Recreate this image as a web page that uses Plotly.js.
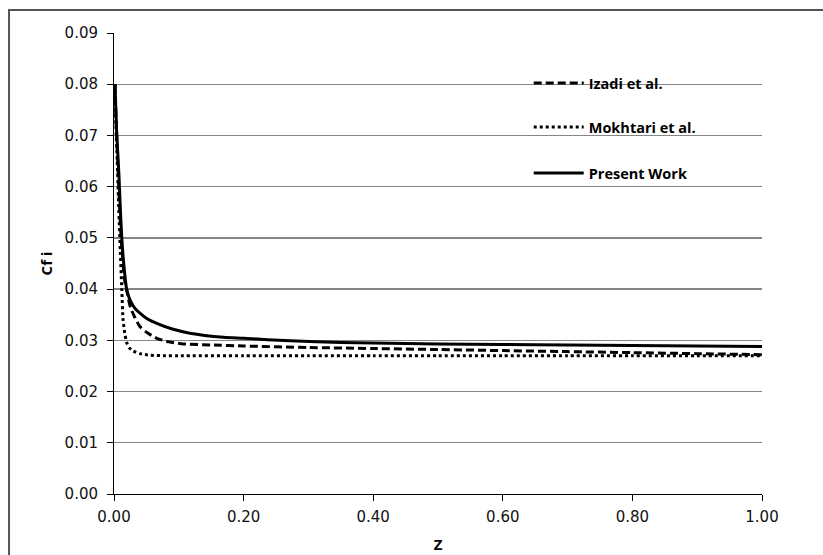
<!DOCTYPE html>
<html>
<head>
<meta charset="utf-8">
<script src="https://cdn.plot.ly/plotly-3.0.1.min.js"></script>
<style>html,body{margin:0;padding:0;background:#fff;}#chart{width:823px;height:555px;}</style>
</head>
<body>
<div id="chart"></div>
<script>
// Data
const izadiZ   = [0.0015, 0.004, 0.006, 0.009, 0.011, 0.014, 0.016, 0.02, 0.025, 0.032, 0.04, 0.05, 0.066, 0.085, 0.107, 0.15, 0.2, 0.3, 0.4, 0.5, 0.6, 0.7, 0.8, 0.9, 1.0];
const izadiCf  = [0.080, 0.070, 0.064, 0.055, 0.050, 0.045, 0.042, 0.0395, 0.0366, 0.0345, 0.0327, 0.0316, 0.0304, 0.0297, 0.0293, 0.0291, 0.0289, 0.0286, 0.0284, 0.0282, 0.0280, 0.0278, 0.0276, 0.0274, 0.0272];

const mokhZ    = [0.0015, 0.003, 0.005, 0.007, 0.009, 0.012, 0.014, 0.0165, 0.0195, 0.024, 0.03, 0.04, 0.056, 0.08, 0.1, 0.2, 0.3, 0.4, 0.5, 0.6, 0.7, 0.8, 0.9, 1.0];
const mokhCf   = [0.080, 0.072, 0.065, 0.057, 0.050, 0.040, 0.034, 0.0315, 0.0296, 0.0285, 0.0279, 0.0274, 0.0271, 0.0270, 0.0270, 0.0270, 0.0270, 0.0270, 0.0270, 0.0270, 0.0270, 0.0270, 0.0270, 0.0270];

const presZ    = [0.0015, 0.004, 0.0077, 0.010, 0.012, 0.015, 0.0195, 0.025, 0.032, 0.040, 0.05, 0.066, 0.09, 0.117, 0.169, 0.2, 0.272, 0.35, 0.5, 0.6, 0.7, 0.8, 0.9, 1.0];
const presCf   = [0.080, 0.071, 0.062, 0.055, 0.050, 0.045, 0.040, 0.0378, 0.0363, 0.0353, 0.0343, 0.0333, 0.0322, 0.0314, 0.0306, 0.0304, 0.0299, 0.0296, 0.0293, 0.0292, 0.0291, 0.0290, 0.0289, 0.0288];

const seriesNames = ["Izadi et al.", "Mokhtari et al.", "Present Work"];
const xTitle = "Z";
const yTitle = "Cf i";

const legendFont = {family: "'Open Sans', sans-serif", size: 14.5, color: "#000", weight: "bold"};

const traces = [
  {x: izadiZ, y: izadiCf, name: seriesNames[0], mode: "lines", legend: "legend",
   line: {color: "#000", width: 3, dash: "8px,4px", shape: "spline", smoothing: 0.6}},
  {x: mokhZ, y: mokhCf, name: seriesNames[1], mode: "lines", legend: "legend2",
   line: {color: "#000", width: 3, dash: "dot", shape: "spline", smoothing: 0.6}},
  {x: presZ, y: presCf, name: seriesNames[2], mode: "lines", legend: "legend3",
   line: {color: "#000", width: 3, shape: "spline", smoothing: 0.6}}
];

function leg(y) {
  return {x: 0.64, xanchor: "left", y: y, yanchor: "middle", bgcolor: "rgba(0,0,0,0)",
          font: legendFont, itemwidth: 50, borderwidth: 0};
}

const layout = {
  width: 823, height: 555,
  margin: {l: 114, r: 61, t: 33, b: 61},
  paper_bgcolor: "#fff", plot_bgcolor: "#fff",
  showlegend: true,
  legend: leg(0.8915),
  legend2: leg(0.796),
  legend3: leg(0.6963),
  xaxis: {
    range: [0, 1], dtick: 0.2, tick0: 0, tickformat: ".2f",
    showgrid: false, zeroline: false,
    showline: true, linecolor: "#000", linewidth: 1,
    ticks: "outside", ticklen: 6, tickcolor: "#000", ticklabelstandoff: 3,
    tickfont: {family: "'DejaVu Sans', sans-serif", size: 15, color: "#111"},
    title: {text: xTitle, font: {family: "'Open Sans', sans-serif", size: 15, color: "#000", weight: "bold"}, standoff: 14}
  },
  yaxis: {
    range: [0, 0.09], dtick: 0.01, tick0: 0, tickformat: ".2f",
    showgrid: true, gridcolor: "#868686", gridwidth: 1.3, zeroline: false,
    showline: true, linecolor: "#000", linewidth: 1,
    ticks: "outside", ticklen: 6, tickcolor: "#000", ticklabelstandoff: 6,
    tickfont: {family: "'DejaVu Sans', sans-serif", size: 15, color: "#111"},
    title: {text: yTitle, font: {family: "'Open Sans', sans-serif", size: 15, color: "#000", weight: "bold"}, standoff: 8}
  },
  shapes: [
    {type: "rect", xref: "paper", yref: "paper", x0: -0.162, x1: 1.25, y0: -0.3, y1: 1.0499,
     line: {color: "#555", width: 2}, fillcolor: "rgba(0,0,0,0)"}
  ]
};

Plotly.newPlot("chart", traces, layout, {displayModeBar: false, staticPlot: true});
</script>
</body>
</html>
